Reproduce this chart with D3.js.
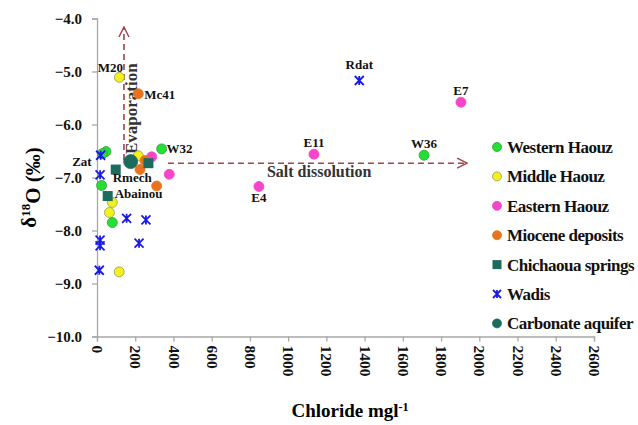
<!DOCTYPE html>
<html>
<head>
<meta charset="utf-8">
<script src="https://cdn.jsdelivr.net/npm/d3@7"></script>
<style>
  body { margin: 0; background: #fff; }
  text { font-family: "Liberation Serif", "Times New Roman", serif; font-weight: bold; }
</style>
</head>
<body>
<svg id="chart" width="638" height="425"></svg>
<script>
// values: chloride (mg/l), d18O (permil), optional sample name
var western = [[47, -6.51], [28, -6.55], [24, -7.15], [80, -7.85], [338, -6.46, "W32"], [1711, -6.58, "W36"]];
var middle = [[117, -5.11, "M20"], [216, -6.59], [80, -7.47], [65, -7.66], [116, -8.78]];
var eastern = [[286, -6.61], [378, -6.94], [1135, -6.56, "E11"], [847, -7.17, "E4"], [1904, -5.58, "E7"]];
var miocene = [[216, -5.42, "Mc41"], [251, -6.68], [225, -6.85], [312, -7.16]];
var chichaoua = [[98, -6.85, "Rmech"], [56, -7.35, "Abainou"], [269, -6.73]];
var wadis = [[19, -6.58, "Zat"], [16, -6.95], [155, -7.77], [256, -7.80], [16, -8.18], [16, -8.29], [220, -8.24], [12, -8.75], [1372, -5.17, "Rdat"]];
var carbonate = [[176, -6.70]];

var seriesNames = ["Western Haouz", "Middle Haouz", "Eastern Haouz", "Miocene deposits", "Chichaoua springs", "Wadis", "Carbonate aquifer"];
var xTicks = d3.range(0, 2601, 200);
var yTicks = d3.range(-10, -3.9, 1);

// arrows in data units
var evapArrow = [[141, -6.67], [141, -4.16]];
var saltArrow = [[371, -6.73], [1936, -6.73]];

const width = 638, height = 425;

const series = [
  { name: seriesNames[0], data: western, shape: "circle", fill: "#22e035", stroke: "#3a9a3a", r: 5 },
  { name: seriesNames[1], data: middle, shape: "circle", fill: "#f2f01e", stroke: "#9a9a50", r: 5 },
  { name: seriesNames[2], data: eastern, shape: "circle", fill: "#f545c8", stroke: "#f545c8", r: 5 },
  { name: seriesNames[3], data: miocene, shape: "circle", fill: "#e8731e", stroke: "#e8731e", r: 5 },
  { name: seriesNames[4], data: chichaoua, shape: "square", fill: "#1d6b5c", stroke: "#1d6b5c", r: 5 },
  { name: seriesNames[5], data: wadis, shape: "star", fill: "none", stroke: "#1a1ae6", r: 5 },
  { name: seriesNames[6], data: carbonate, shape: "circle", fill: "#1d6b5c", stroke: "#1d6b5c", r: 7 }
];

// label placement relative to the point (dx, dy, anchor)
const labelPos = {
  W32: [5, 4, "start"], W36: [0, -7, "middle"], M20: [-9, -5, "middle"], Mc41: [6, 5, "start"],
  E11: [0, -7, "middle"], E4: [0, 15, "middle"], E7: [0, -7, "middle"], Rdat: [0, -12, "middle"],
  Zat: [-9, 11, "end"], Rmech: [-3, 12, "start"], Abainou: [7, 2, "start"]
};

const svg = d3.select("#chart");

const x = d3.scaleLinear().domain([0, 2600]).range([97, 594]);
const y = d3.scaleLinear().domain([-10, -4]).range([336.5, 18.5]);

// axes
const xAxis = svg.append("g")
  .attr("transform", `translate(0,${y(-10)})`)
  .call(d3.axisBottom(x).tickValues(xTicks).tickSize(5).tickPadding(0).tickFormat(d3.format("d")));
xAxis.selectAll("text")
  .attr("transform", "rotate(90)")
  .attr("text-anchor", "start")
  .attr("dy", "0.35em")
  .attr("x", 9)
  .attr("y", 0)
  .style("font-size", "15.5px")
  .attr("fill", "#111");

const yAxis = svg.append("g")
  .attr("transform", `translate(${x(0)},0)`)
  .call(d3.axisLeft(y).tickValues(yTicks).tickSize(5).tickPadding(10).tickFormat(d3.format(".1f")));
yAxis.selectAll("text").style("font-size", "15px").attr("fill", "#111");

svg.selectAll(".domain, .tick line").attr("stroke", "#a8a8a8").attr("stroke-width", 1.3);

// axis titles
const yTitle = svg.append("text")
  .attr("transform", `translate(36,${(y(-4) + y(-10)) / 2 + 10}) rotate(-90)`)
  .attr("text-anchor", "middle")
  .style("font-size", "21px");
yTitle.append("tspan").text("\u03b4");
yTitle.append("tspan").text("18").attr("dy", "-0.45em").style("font-size", "13px");
yTitle.append("tspan").text("O (\u2030)").attr("dy", "0.45em");

const xTitle = svg.append("text")
  .attr("x", 350).attr("y", 417)
  .attr("text-anchor", "middle")
  .style("font-size", "19px");
xTitle.append("tspan").text("Chloride mgl");
xTitle.append("tspan").text("-1").attr("dy", "-0.5em").style("font-size", "12px");

// arrows
const defs = svg.append("defs");
defs.append("marker")
  .attr("id", "head")
  .attr("viewBox", "0 0 12 12")
  .attr("refX", 11).attr("refY", 6)
  .attr("markerWidth", 12).attr("markerHeight", 12)
  .attr("markerUnits", "userSpaceOnUse")
  .attr("orient", "auto")
  .append("path")
  .attr("d", "M1,1 L11,6 L1,11")
  .attr("fill", "none")
  .attr("stroke", "#a3424a")
  .attr("stroke-width", 1.4);

const line = d3.line().x(d => x(d[0])).y(d => y(d[1]));
[evapArrow, saltArrow].forEach(function (a) {
  svg.append("path")
    .attr("d", line(a))
    .attr("fill", "none")
    .attr("stroke", "#a3424a")
    .attr("stroke-width", 1.6)
    .attr("stroke-dasharray", "6,4")
    .attr("marker-end", "url(#head)");
});

svg.append("text")
  .attr("transform", `translate(${x(evapArrow[0][0]) + 13},${y(evapArrow[0][1]) - 6}) rotate(-90)`)
  .attr("fill", "#333")
  .style("font-size", "17px")
  .text("Evaporation");

svg.append("text")
  .attr("x", x(saltArrow[0][0]) + 99)
  .attr("y", y(saltArrow[0][1]) + 14)
  .attr("fill", "#333")
  .style("font-size", "16px")
  .text("Salt dissolution");

// markers
function drawMarker(g, s) {
  if (s.shape === "circle") {
    g.append("circle").attr("r", s.r).attr("fill", s.fill).attr("stroke", s.stroke).attr("stroke-width", 0.8);
  } else if (s.shape === "square") {
    g.append("rect").attr("x", -s.r).attr("y", -s.r).attr("width", 2 * s.r).attr("height", 2 * s.r)
      .attr("fill", s.fill);
  } else {
    const k = s.r - 0.5;
    g.append("path")
      .attr("d", `M${-k},${-k}L${k},${k}M${-k},${k}L${k},${-k}M0,${-k}L0,${k}`)
      .attr("stroke", s.stroke).attr("stroke-width", 1.8).attr("fill", "none");
  }
}

series.forEach(function (s) {
  svg.append("g").selectAll("g")
    .data(s.data)
    .join("g")
    .attr("transform", d => `translate(${x(d[0])},${y(d[1])})`)
    .each(function () { drawMarker(d3.select(this), s); });
});

// point labels
const labelled = [].concat(...series.map(s => s.data)).filter(d => d[2]);
svg.append("g").selectAll("text")
  .data(labelled)
  .join("text")
  .attr("x", d => x(d[0]) + labelPos[d[2]][0])
  .attr("y", d => y(d[1]) + labelPos[d[2]][1])
  .attr("text-anchor", d => labelPos[d[2]][2])
  .attr("fill", "#111")
  .style("font-size", "13px")
  .text(d => d[2]);

// legend
const legend = svg.append("g").selectAll("g")
  .data(series)
  .join("g")
  .attr("transform", (d, i) => `translate(497,${147 + i * 29.4})`);
legend.each(function (s) {
  drawMarker(d3.select(this), Object.assign({}, s, { r: 4.5 }));
});
legend.append("text")
  .attr("x", 10)
  .attr("dy", "0.35em")
  .attr("fill", "#111")
  .style("font-size", "17px")
  .style("letter-spacing", "-0.5px")
  .text(d => d.name);
</script>
</body>
</html>
